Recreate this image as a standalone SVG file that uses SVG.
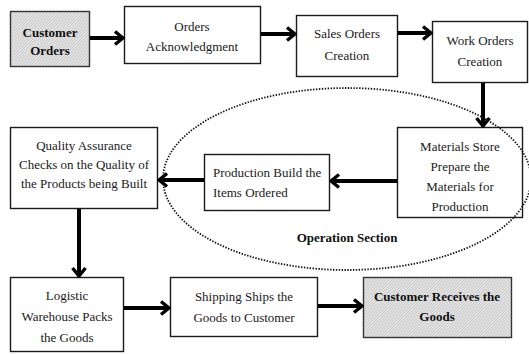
<svg xmlns="http://www.w3.org/2000/svg" width="529" height="354" viewBox="0 0 529 354" font-family="'Liberation Serif', 'Times New Roman', serif">
  <style>
    .box { fill: #ffffff; stroke: #1a1a1a; stroke-width: 1.4; }
    .shaded { fill: url(#hatch); stroke: #333333; stroke-width: 1.4; }
    .lbl { font-family: "Liberation Serif", "Times New Roman", serif; font-size: 13px; fill: #1a1a1a; text-anchor: middle; }
    .bold { font-weight: bold; fill: #111111; }
    .left { text-anchor: start; }
    .flow { fill: none; stroke: #000000; stroke-width: 4; marker-end: url(#chevron); }
    .section { fill: none; stroke: #111111; stroke-width: 1.8; stroke-dasharray: 1.4 1.5; }
  </style>
  <defs>
    <pattern id="hatch" width="3" height="3" patternUnits="userSpaceOnUse">
      <rect width="3" height="3" fill="#e2e2e2"/>
      <path d="M0,3 L3,0" stroke="#c4c4c4" stroke-width="0.8"/>
    </pattern>
    <marker id="chevron" viewBox="0 0 12 16" refX="10" refY="8" markerWidth="12" markerHeight="16" markerUnits="userSpaceOnUse" orient="auto">
      <path d="M2,1.5 L10,8 L2,14.5" fill="none" stroke="#000000" stroke-width="3.4" stroke-linejoin="miter"/>
    </marker>
  </defs>

  <rect width="529" height="354" fill="#ffffff"/>

  <!-- nodes -->
  <g id="customer-orders">
    <rect class="shaded" x="10.5" y="11.5" width="79" height="55"/>
    <text class="lbl bold" x="50" y="36.5">Customer</text>
    <text class="lbl bold" x="50" y="54.5">Orders</text>
  </g>
  <g id="orders-acknowledgment">
    <rect class="box" x="124.5" y="6.5" width="136" height="57"/>
    <text class="lbl" x="192" y="30.5">Orders</text>
    <text class="lbl" x="192" y="50.5">Acknowledgment</text>
  </g>
  <g id="sales-orders">
    <rect class="box" x="296.5" y="15.5" width="101" height="61"/>
    <text class="lbl" x="347" y="38">Sales Orders</text>
    <text class="lbl" x="347" y="60">Creation</text>
  </g>
  <g id="work-orders">
    <rect class="box" x="432.5" y="21.5" width="95" height="61"/>
    <text class="lbl" x="480" y="44.5">Work Orders</text>
    <text class="lbl" x="480" y="65.5">Creation</text>
  </g>
  <g id="materials-store">
    <rect class="box" x="397.5" y="127.5" width="125" height="90"/>
    <text class="lbl" x="460" y="151">Materials Store</text>
    <text class="lbl" x="460" y="171">Prepare the</text>
    <text class="lbl" x="460" y="191">Materials for</text>
    <text class="lbl" x="460" y="211">Production</text>
  </g>
  <g id="production-build">
    <rect class="box" x="204.5" y="154.5" width="125" height="56"/>
    <text class="lbl left" x="213" y="177">Production Build the</text>
    <text class="lbl left" x="213" y="197">Items Ordered</text>
  </g>
  <g id="quality-assurance">
    <rect class="box" x="10.5" y="127.5" width="147" height="81"/>
    <text class="lbl" x="84" y="150">Quality Assurance</text>
    <text class="lbl" x="84" y="169">Checks on the Quality of</text>
    <text class="lbl" x="84" y="188">the Products being Built</text>
  </g>
  <g id="logistic-warehouse">
    <rect class="box" x="10.5" y="277.5" width="113" height="74"/>
    <text class="lbl" x="67" y="300">Logistic</text>
    <text class="lbl" x="67" y="321">Warehouse Packs</text>
    <text class="lbl" x="67" y="342">the Goods</text>
  </g>
  <g id="shipping">
    <rect class="box" x="170.5" y="277.5" width="147" height="59"/>
    <text class="lbl" x="244" y="301">Shipping Ships the</text>
    <text class="lbl" x="244" y="322">Goods to Customer</text>
  </g>
  <g id="customer-receives">
    <rect class="shaded" x="363.5" y="277.5" width="148" height="60"/>
    <text class="lbl bold" x="437" y="301">Customer Receives the</text>
    <text class="lbl bold" x="437" y="321">Goods</text>
  </g>

  <!-- connectors -->
  <g id="connectors">
    <path class="flow" d="M90,38 H123"/>
    <path class="flow" d="M261,34 H295"/>
    <path class="flow" d="M398,33 H431"/>
    <path class="flow" d="M483,83 V126"/>
    <path class="flow" d="M397,181 H331"/>
    <path class="flow" d="M204,180 H159"/>
    <path class="flow" d="M79,209 V276"/>
    <path class="flow" d="M124,308 H169"/>
    <path class="flow" d="M318,306 H362"/>
  </g>

  <!-- operation section boundary -->
  <g id="operation-section">
    <ellipse class="section" cx="347" cy="179" rx="184" ry="91"/>
    <text class="lbl bold" x="347" y="242">Operation Section</text>
  </g>
</svg>
